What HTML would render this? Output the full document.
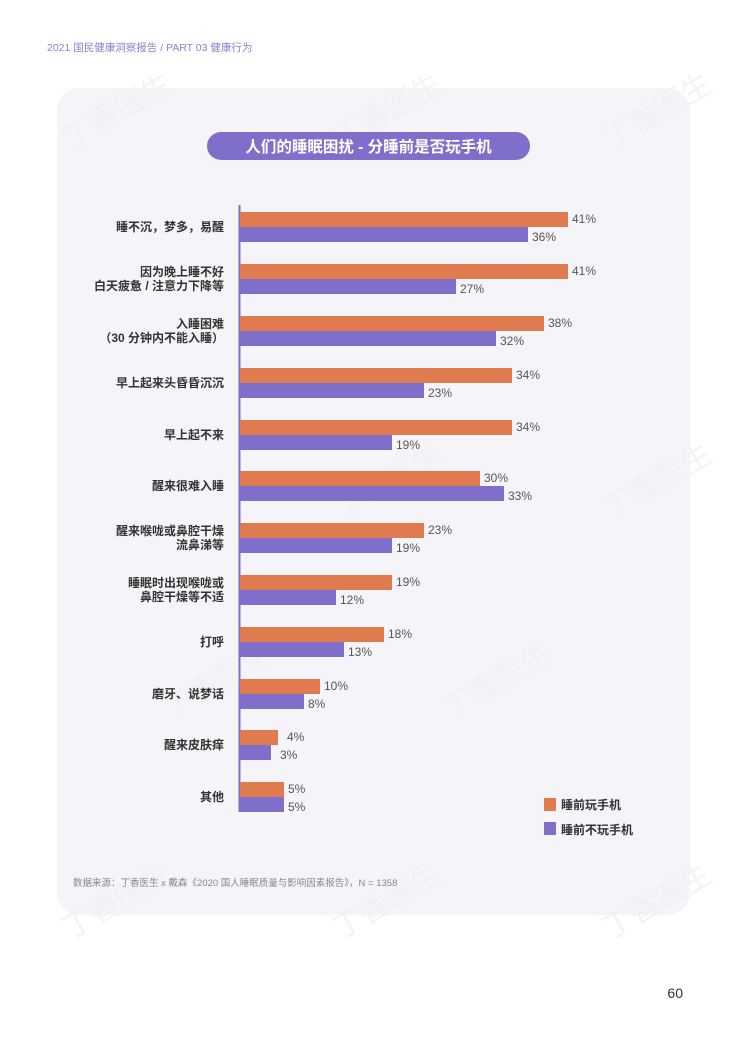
<!DOCTYPE html>
<html><head><meta charset="utf-8"><style>
body{margin:0;background:#fff;}
svg{display:block;font-family:"Liberation Sans","Noto Sans CJK SC",sans-serif;}
</style></head><body>
<svg width="735" height="1039" viewBox="0 0 735 1039">
<rect width="735" height="1039" fill="#fff"/>
<text x="47" y="51" font-size="10.5" fill="#8f7fd0">2021 国民健康洞察报告 / PART 03 健康行为</text>
<rect x="57" y="88" width="633" height="827" rx="22" fill="#f5f4f9"/>
<g fill="#f0eff4" font-size="30" opacity="0.7">
<text x="70" y="150" transform="rotate(-30 70 150)">丁香医生</text>
<text x="340" y="150" transform="rotate(-30 340 150)">丁香医生</text>
<text x="610" y="150" transform="rotate(-30 610 150)">丁香医生</text>
<text x="340" y="520" transform="rotate(-30 340 520)">丁香医生</text>
<text x="610" y="520" transform="rotate(-30 610 520)">丁香医生</text>
<text x="170" y="720" transform="rotate(-30 170 720)">丁香医生</text>
<text x="450" y="720" transform="rotate(-30 450 720)">丁香医生</text>
<text x="70" y="940" transform="rotate(-30 70 940)">丁香医生</text>
<text x="340" y="940" transform="rotate(-30 340 940)">丁香医生</text>
<text x="610" y="940" transform="rotate(-30 610 940)">丁香医生</text>
</g>
<rect x="207" y="132" width="323" height="28" rx="14" fill="#7f6fcb"/>
<text x="368.5" y="152" font-size="15.5" font-weight="bold" fill="#fff" text-anchor="middle">人们的睡眠困扰 - 分睡前是否玩手机</text>
<line x1="239.5" y1="205" x2="239.5" y2="812" stroke="#7f6fcb" stroke-width="2"/>
<g font-size="12" fill="#555">
<rect x="240" y="212" width="328" height="15" fill="#e07b50"/><rect x="240" y="227" width="288" height="15" fill="#7f6fcb"/><text x="572" y="223">41%</text><text x="532" y="241">36%</text>
<rect x="240" y="264" width="328" height="15" fill="#e07b50"/><rect x="240" y="279" width="216" height="15" fill="#7f6fcb"/><text x="572" y="275">41%</text><text x="460" y="293">27%</text>
<rect x="240" y="316" width="304" height="15" fill="#e07b50"/><rect x="240" y="331" width="256" height="15" fill="#7f6fcb"/><text x="548" y="327">38%</text><text x="500" y="345">32%</text>
<rect x="240" y="368" width="272" height="15" fill="#e07b50"/><rect x="240" y="383" width="184" height="15" fill="#7f6fcb"/><text x="516" y="379">34%</text><text x="428" y="397">23%</text>
<rect x="240" y="420" width="272" height="15" fill="#e07b50"/><rect x="240" y="435" width="152" height="15" fill="#7f6fcb"/><text x="516" y="431">34%</text><text x="396" y="449">19%</text>
<rect x="240" y="471" width="240" height="15" fill="#e07b50"/><rect x="240" y="486" width="264" height="15" fill="#7f6fcb"/><text x="484" y="482">30%</text><text x="508" y="500">33%</text>
<rect x="240" y="523" width="184" height="15" fill="#e07b50"/><rect x="240" y="538" width="152" height="15" fill="#7f6fcb"/><text x="428" y="534">23%</text><text x="396" y="552">19%</text>
<rect x="240" y="575" width="152" height="15" fill="#e07b50"/><rect x="240" y="590" width="96" height="15" fill="#7f6fcb"/><text x="396" y="586">19%</text><text x="340" y="604">12%</text>
<rect x="240" y="627" width="144" height="15" fill="#e07b50"/><rect x="240" y="642" width="104" height="15" fill="#7f6fcb"/><text x="388" y="638">18%</text><text x="348" y="656">13%</text>
<rect x="240" y="679" width="80" height="15" fill="#e07b50"/><rect x="240" y="694" width="64" height="15" fill="#7f6fcb"/><text x="324" y="690">10%</text><text x="308" y="708">8%</text>
<rect x="240" y="730" width="38" height="15" fill="#e07b50"/><rect x="240" y="745" width="31" height="15" fill="#7f6fcb"/><text x="287" y="741">4%</text><text x="280" y="759">3%</text>
<rect x="240" y="782" width="44" height="15" fill="#e07b50"/><rect x="240" y="797" width="44" height="15" fill="#7f6fcb"/><text x="288" y="793">5%</text><text x="288" y="811">5%</text>
</g>
<g font-size="12" font-weight="bold" fill="#333" text-anchor="end">
<text x="224" y="231">睡不沉，梦多，易醒</text>
<text x="224" y="276">因为晚上睡不好</text><text x="224" y="290">白天疲惫 / 注意力下降等</text>
<text x="224" y="328">入睡困难</text><text x="224" y="342">（30 分钟内不能入睡）</text>
<text x="224" y="387">早上起来头昏昏沉沉</text>
<text x="224" y="439">早上起不来</text>
<text x="224" y="490">醒来很难入睡</text>
<text x="224" y="535">醒来喉咙或鼻腔干燥</text><text x="224" y="549">流鼻涕等</text>
<text x="224" y="587">睡眠时出现喉咙或</text><text x="224" y="601">鼻腔干燥等不适</text>
<text x="224" y="646">打呼</text>
<text x="224" y="698">磨牙、说梦话</text>
<text x="224" y="749">醒来皮肤痒</text>
<text x="224" y="801">其他</text>
</g>
<rect x="544" y="798" width="12" height="13" fill="#e07b50"/>
<text x="561" y="809" font-size="12" font-weight="bold" fill="#333">睡前玩手机</text>
<rect x="544" y="822" width="12" height="13" fill="#7f6fcb"/>
<text x="561" y="834" font-size="12" font-weight="bold" fill="#333">睡前不玩手机</text>
<text x="73" y="886" font-size="9.5" fill="#888">数据来源：丁香医生 x 戴森《2020 国人睡眠质量与影响因素报告》，N = 1358</text>
<text x="683" y="998" font-size="14" fill="#333" text-anchor="end">60</text>
</svg>
</body></html>
